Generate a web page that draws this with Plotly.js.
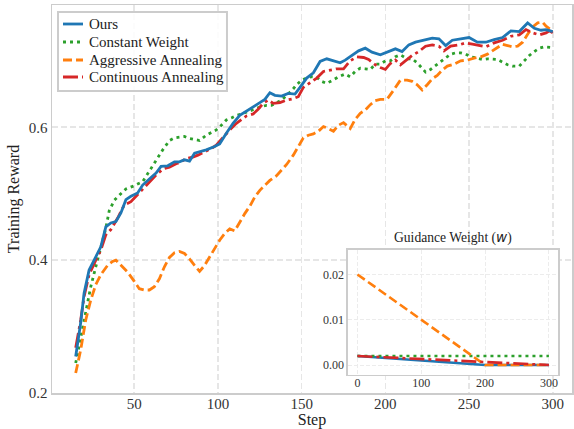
<!DOCTYPE html>
<html>
<head>
<meta charset="utf-8">
<script src="https://cdn.plot.ly/plotly-3.0.1.min.js"></script>
<style>html,body{margin:0;padding:0;background:#fff}#chart{width:574px;height:429px}</style>
</head>
<body>
<div id="chart"></div>
<script>
// ---- Main chart data (Training Reward vs Step) ----
const oursSteps = [15,18,20,23,27,30,33,36,39,42,45,48,52,55,59,63,66,70,74,77,80,83,86,89,93,98,101,105,109,113,117,121,125,128,131,134,138,142,146,149,153,157,161,165,169,173,176,180,184,188,192,197,202,206,210,214,218,223,228,232,236,240,245,250,255,260,265,270,275,280,285,289,293,296,300];
const oursReward = [0.255,0.306,0.350,0.385,0.405,0.420,0.450,0.456,0.458,0.471,0.491,0.496,0.501,0.513,0.522,0.531,0.541,0.542,0.548,0.548,0.551,0.549,0.561,0.563,0.566,0.571,0.575,0.591,0.606,0.618,0.624,0.631,0.637,0.642,0.652,0.648,0.647,0.651,0.650,0.660,0.674,0.682,0.699,0.703,0.700,0.697,0.701,0.708,0.715,0.719,0.713,0.709,0.714,0.718,0.714,0.724,0.728,0.731,0.734,0.733,0.723,0.731,0.733,0.735,0.728,0.728,0.732,0.735,0.745,0.744,0.757,0.749,0.746,0.747,0.744];

const contSteps = [15,18,20,23,27,30,33,36,40,44,48,51,55,59,63,67,71,75,78,81,85,88,92,96,99,103,107,111,114,117,121,124,127,130,133,137,141,145,148,151,155,159,163,167,171,175,179,183,187,190,194,197,200,203,206,209,212,216,220,224,228,232,235,239,244,248,252,256,260,265,270,275,280,284,288,292,296,298,300];
const contReward = [0.268,0.310,0.345,0.378,0.400,0.415,0.438,0.446,0.463,0.483,0.488,0.496,0.508,0.518,0.528,0.537,0.540,0.545,0.548,0.553,0.555,0.558,0.563,0.568,0.573,0.585,0.596,0.606,0.612,0.617,0.620,0.627,0.636,0.641,0.636,0.637,0.641,0.643,0.646,0.660,0.667,0.674,0.684,0.686,0.688,0.688,0.700,0.706,0.705,0.702,0.694,0.690,0.687,0.696,0.701,0.694,0.700,0.708,0.714,0.722,0.724,0.722,0.715,0.722,0.724,0.727,0.725,0.723,0.721,0.727,0.731,0.737,0.739,0.747,0.742,0.739,0.742,0.745,0.742];

const constSteps = [15,18,21,24,27,30,33,35,38,42,45,49,52,55,59,63,67,71,74,77,80,83,86,89,93,96,99,102,105,108,111,114,117,120,123,126,129,132,135,138,141,144,147,150,153,156,159,162,165,169,173,176,179,182,185,188,191,194,197,200,203,206,209,213,216,219,221,224,227,230,233,236,239,242,245,248,251,255,258,261,264,267,270,273,276,280,283,286,289,292,295,298,300];
const constReward = [0.245,0.285,0.325,0.360,0.390,0.418,0.448,0.474,0.490,0.500,0.507,0.511,0.514,0.518,0.534,0.551,0.566,0.580,0.584,0.585,0.586,0.583,0.582,0.580,0.588,0.592,0.596,0.603,0.611,0.614,0.618,0.620,0.623,0.626,0.629,0.631,0.633,0.633,0.637,0.641,0.648,0.655,0.664,0.671,0.674,0.676,0.675,0.669,0.666,0.672,0.677,0.680,0.676,0.684,0.689,0.688,0.687,0.695,0.695,0.700,0.700,0.706,0.709,0.703,0.703,0.697,0.691,0.683,0.687,0.693,0.698,0.705,0.710,0.712,0.712,0.710,0.706,0.704,0.702,0.703,0.703,0.702,0.698,0.694,0.692,0.692,0.700,0.708,0.714,0.719,0.721,0.721,0.720];

const aggrSteps = [15,18,21,24,27,30,34,37,39,42,46,50,53,56,59,62,65,68,71,74,77,80,83,86,89,92,95,98,101,104,107,110,113,116,119,122,125,128,131,135,138,141,145,148,151,154,157,160,163,166,169,172,175,179,182,185,188,191,194,197,201,205,209,213,216,219,222,225,228,231,234,237,241,245,249,253,257,261,264,267,270,273,276,279,282,285,288,291,294,296,298,300];
const aggrReward = [0.230,0.265,0.310,0.340,0.363,0.378,0.392,0.398,0.400,0.392,0.382,0.368,0.357,0.355,0.355,0.360,0.372,0.390,0.404,0.411,0.413,0.410,0.402,0.392,0.383,0.392,0.405,0.418,0.430,0.440,0.447,0.444,0.458,0.470,0.481,0.495,0.505,0.512,0.520,0.527,0.535,0.544,0.558,0.572,0.584,0.588,0.590,0.594,0.601,0.598,0.594,0.603,0.607,0.598,0.612,0.621,0.626,0.634,0.640,0.642,0.642,0.656,0.671,0.671,0.669,0.664,0.656,0.664,0.673,0.678,0.686,0.692,0.695,0.700,0.701,0.704,0.706,0.710,0.715,0.720,0.725,0.723,0.721,0.722,0.728,0.740,0.751,0.757,0.758,0.752,0.748,0.745];

// ---- Inset data (Guidance Weight w) ----
const wOursSteps = [0, 200, 300];
const wOurs = [0.002, 0.0, 0.0];
const wConstSteps = [0, 300];
const wConst = [0.002, 0.002];
const wAggrSteps = [0, 200, 300];
const wAggr = [0.02, 0.0, 0.0];
const wContSteps = [0, 300];
const wCont = [0.002, 0.0];

// ---- Labels / ticks ----
const seriesNames = ['Ours', 'Constant Weight', 'Aggressive Annealing', 'Continuous Annealing'];
const colors = ['#1f77b4', '#2ca02c', '#ff7f0e', '#d62728'];
const mainXTicks = [50, 100, 150, 200, 250, 300];
const mainYTicks = [0.2, 0.4, 0.6];
const insetXTicks = [0, 100, 200, 300];
const insetYTicks = [0.00, 0.01, 0.02];

const dashes = ['solid', '3px,4px', '9px,4px', '15px,4px,3px,4px'];

const traces = [
  {x: constSteps, y: constReward, name: seriesNames[1], line: {color: colors[1], width: 2.8, dash: dashes[1]}},
  {x: aggrSteps, y: aggrReward, name: seriesNames[2], line: {color: colors[2], width: 2.8, dash: dashes[2]}},
  {x: contSteps, y: contReward, name: seriesNames[3], line: {color: colors[3], width: 2.8, dash: dashes[3]}},
  {x: oursSteps, y: oursReward, name: seriesNames[0], line: {color: colors[0], width: 2.8, dash: dashes[0]}},
  {x: wOursSteps, y: wOurs, xaxis: 'x2', yaxis: 'y2', line: {color: colors[0], width: 2.6, dash: dashes[0]}},
  {x: wConstSteps, y: wConst, xaxis: 'x2', yaxis: 'y2', line: {color: colors[1], width: 2.6, dash: dashes[1]}},
  {x: wAggrSteps, y: wAggr, xaxis: 'x2', yaxis: 'y2', line: {color: colors[2], width: 2.6, dash: dashes[2]}},
  {x: wContSteps, y: wCont, xaxis: 'x2', yaxis: 'y2', line: {color: colors[3], width: 2.6, dash: dashes[3]}}
].map(t => Object.assign({type: 'scatter', mode: 'lines', hoverinfo: 'skip', showlegend: false}, t));

const serif = "'Liberation Serif', 'Times New Roman', serif";
const frame = {showline: true, linecolor: '#cccccc', linewidth: 1.5, mirror: true, zeroline: false, ticks: ''};

// ---- Legend (drawn as a boxed key in the upper-left corner, paper coordinates) ----
const legBox = {x0: 0.01154, x1: 0.3365, y0: 0.77835, y1: 0.98196};
const legRowY = [0.95103, 0.90464, 0.85825, 0.81443];
const legLineX = [0.02115, 0.05962];
const legTextX = 0.06731;

const shapes = [{
  type: 'rect', xref: 'paper', yref: 'paper', layer: 'above',
  x0: legBox.x0, x1: legBox.x1, y0: legBox.y0, y1: legBox.y1,
  fillcolor: 'rgba(255,255,255,0.85)', line: {color: '#cccccc', width: 2}
}];
const annotations = [];
seriesNames.forEach((nm, i) => {
  shapes.push({
    type: 'line', xref: 'paper', yref: 'paper', layer: 'above',
    x0: legLineX[0], x1: legLineX[1], y0: legRowY[i], y1: legRowY[i],
    line: {color: colors[i], width: 2.8, dash: dashes[i]}
  });
  annotations.push({
    xref: 'paper', yref: 'paper', x: legTextX, y: legRowY[i], xanchor: 'left', yanchor: 'middle',
    showarrow: false, text: nm, font: {family: serif, size: 15, color: '#222'}
  });
});
annotations.push({
  xref: 'paper', yref: 'paper', x: 0.7712, y: 0.3995, xanchor: 'center', yanchor: 'middle',
  showarrow: false, font: {size: 13.6, color: '#222', family: serif},
  text: 'Guidance Weight (<span style="font-family:DejaVu Sans;font-style:italic">w</span>)'
});

const layout = {
  width: 574, height: 429,
  margin: {l: 52, r: 2, t: 5, b: 36},
  paper_bgcolor: '#ffffff', plot_bgcolor: '#ffffff',
  font: {family: serif, size: 15, color: '#333333'},
  showlegend: false,
  xaxis: Object.assign({}, frame, {
    range: [0.84, 311.5], tickvals: mainXTicks, ticktext: mainXTicks.map(String),
    showgrid: true, gridcolor: '#e6e6e6', gridwidth: 1.6, griddash: '6px,3px',
    tickfont: {size: 15}, ticklabelstandoff: -4,
    title: {text: 'Step', font: {size: 16, color: '#222'}, standoff: 6}
  }),
  yaxis: Object.assign({}, frame, {
    range: [0.2, 0.784], tickvals: mainYTicks, ticktext: mainYTicks.map(v => v.toFixed(1)),
    showgrid: true, gridcolor: '#e6e6e6', gridwidth: 1.6, griddash: '6px,3px',
    tickfont: {size: 15}, title: {text: 'Training Reward', font: {size: 16, color: '#222'}, standoff: 5}
  }),
  xaxis2: Object.assign({}, frame, {
    domain: [0.569, 0.974], anchor: 'y2', range: [-15, 315],
    tickvals: insetXTicks, ticktext: insetXTicks.map(String),
    showgrid: true, gridcolor: '#ececec', gridwidth: 1, griddash: '4px,2px',
    tickfont: {size: 12}, ticklabelstandoff: -4
  }),
  yaxis2: Object.assign({}, frame, {
    domain: [0.0464, 0.3686], anchor: 'x2', range: [-0.0022, 0.0254],
    tickvals: insetYTicks, ticktext: insetYTicks.map(v => v.toFixed(2)),
    showgrid: true, gridcolor: '#ececec', gridwidth: 1, griddash: '4px,2px',
    tickfont: {size: 12}
  }),
  shapes: shapes,
  annotations: annotations
};

Plotly.newPlot('chart', traces, layout, {displayModeBar: false, staticPlot: true});
</script>
</body>
</html>
